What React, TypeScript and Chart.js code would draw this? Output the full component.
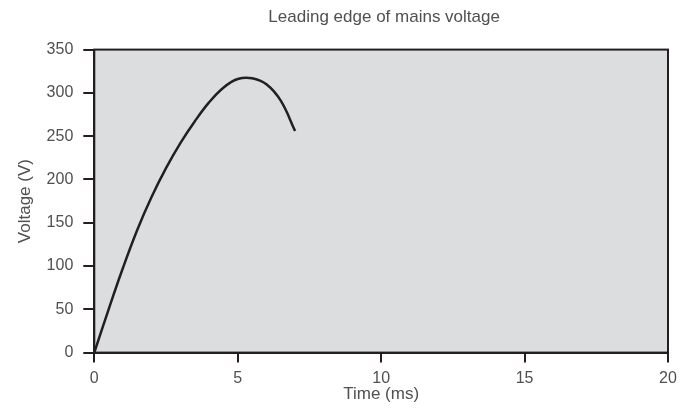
import React, { useEffect, useRef } from "react";
import { Chart, registerables } from "chart.js";

Chart.register(...registerables);

const chartTitle = "Leading edge of mains voltage";
const xTitle = "Time (ms)";
const yTitle = "Voltage (V)";
const timeMs = [0, 0.5, 1, 1.5, 2, 2.5, 3, 3.5, 4, 4.5, 5, 5.5, 6, 6.5, 7];
const voltage = [0, 50, 98, 142, 180, 213, 242, 267, 289, 306, 316, 317, 310, 291, 256];
const xMin = 0, xMax = 20, xStep = 5;
const yMin = 0, yMax = 350, yStep = 50;

const FONT = "'Liberation Sans', Arial, Helvetica, sans-serif";
const TEXT = "#505050";
const INK = "#231f20";

const framePlugin = {
  id: "frame",
  beforeDraw(chart: any) {
    const { ctx, chartArea: a } = chart;
    ctx.save();
    ctx.fillStyle = "#dcdddf";
    ctx.fillRect(a.left, a.top, a.right - a.left, a.bottom - a.top);
    ctx.restore();
  },
  afterDraw(chart: any) {
    const { ctx, chartArea: a } = chart;
    ctx.save();
    ctx.strokeStyle = INK;
    ctx.lineWidth = 2;
    ctx.strokeRect(a.left, a.top, a.right - a.left, a.bottom - a.top);
    ctx.fillStyle = TEXT;
    ctx.font = `17px ${FONT}`;
    ctx.textAlign = "center";
    ctx.textBaseline = "middle";
    ctx.fillText(chartTitle, (a.left + a.right) / 2 + 3, 17.5);
    ctx.restore();
  },
};

export default function App() {
  const ref = useRef<HTMLCanvasElement>(null);
  useEffect(() => {
    if (!ref.current) return;
    const font = { family: FONT, size: 16 };
    const titleFont = { family: FONT, size: 17 };
    const chart = new Chart(ref.current, {
      type: "line",
      data: {
        datasets: [
          {
            data: timeMs.map((t, i) => ({ x: t, y: voltage[i] })),
            borderColor: INK,
            borderWidth: 2.5,
            pointRadius: 0,
            tension: 0.4,
            fill: false,
          },
        ],
      },
      options: {
        responsive: false,
        animation: false,
        layout: { padding: { top: 49.6, right: 15, left: 0, bottom: 0 } },
        plugins: { legend: { display: false }, tooltip: { enabled: false }, title: { display: false } },
        scales: {
          x: {
            type: "linear",
            min: xMin,
            max: xMax,
            afterFit: (s: any) => { s.height = 57.4; },
            ticks: { stepSize: xStep, color: TEXT, font, padding: 6, maxRotation: 0 },
            grid: { drawOnChartArea: false, drawTicks: true, tickLength: 10, color: INK, lineWidth: 2 },
            border: { display: true, color: INK, width: 2 },
            title: { display: true, text: xTitle, color: TEXT, font: titleFont, padding: { top: 0, bottom: 5 } },
          },
          y: {
            type: "linear",
            min: yMin,
            max: yMax,
            afterFit: (s: any) => { s.width = 94.3; },
            ticks: { stepSize: yStep, color: TEXT, font, padding: 10 },
            grid: { drawOnChartArea: false, drawTicks: true, tickLength: 11, color: INK, lineWidth: 2 },
            border: { display: true, color: INK, width: 2 },
            title: { display: true, text: yTitle, color: TEXT, font: titleFont, padding: { top: 15, bottom: 0 } },
          },
        },
      },
      plugins: [framePlugin],
    });
    return () => chart.destroy();
  }, []);
  return (
    <div style={{ position: "absolute", left: 0, top: 0, width: 683, height: 410 }}>
      <canvas ref={ref} width={683} height={410} style={{ display: "block" }} />
    </div>
  );
}
